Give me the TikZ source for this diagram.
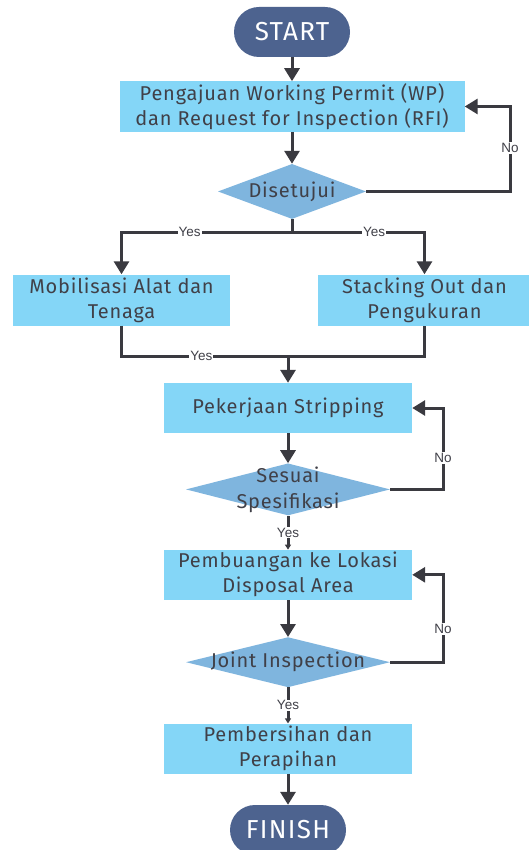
\documentclass[tikz,border=0pt]{standalone}
\usepackage{fontspec}
\setmainfont{Fira Sans}[LetterSpace=4]
\newfontfamily\termfont{Fira Sans}[LetterSpace=5]
\newfontfamily\lblfont{Liberation Sans}
\usetikzlibrary{shapes.geometric, arrows.meta, positioning}
\definecolor{termblue}{HTML}{4D638F}
\definecolor{boxcyan}{HTML}{84D6F7}
\definecolor{diablue}{HTML}{7FB5DE}
\definecolor{txtgray}{HTML}{404048}
\definecolor{linegray}{HTML}{3A3A40}

\begin{document}
\begin{tikzpicture}[x=1pt, y=1pt, term/.style={rectangle,rounded corners=25pt,fill=termblue,text=white,minimum width=116pt,minimum height=50pt,font=\termfont\fontsize{26}{28}\selectfont}, box/.style={rectangle,fill=boxcyan,text=txtgray,align=center,minimum width=248pt,minimum height=50pt,inner sep=2pt,font=\fontsize{20}{25}\selectfont}, dia/.style={diamond,fill=diablue,inner sep=0pt,minimum width=204pt,minimum height=52pt}, dtxt/.style={text=txtgray,align=center,font=\fontsize{20}{26}\selectfont}, arr/.style={-{Triangle[length=13pt,width=15pt]},line width=3pt,linegray}, arrsm/.style={-{Triangle[length=5pt,width=6pt]},line width=3pt,linegray}, ln/.style={line width=3pt,linegray}, lbl/.style={fill=white,inner sep=1pt,text=txtgray,font=\lblfont\fontsize{13.5}{14}\selectfont}]
  \useasboundingbox (0,0) rectangle (528,-850);
  \fill[white] (0,0) rectangle (528,-850);
  % main column
  \node[term] (start) at (292,-32) {START};
  \node[box,minimum width=345pt,below=24pt of start] (wp) {Pengajuan Working Permit (WP)\\dan Request for Inspection (RFI)};
  \node[dia,minimum width=148pt,minimum height=55pt,below=32pt of wp,label={[dtxt]center:Disetujui}] (dis) {};
  \node[box,minimum width=217pt,minimum height=51pt] (mob) at (121.5,-300) {Mobilisasi Alat dan\\Tenaga};
  \node[box,minimum width=214pt,minimum height=51pt] (stack) at (424.5,-300) {Stacking Out dan\\Pengukuran};
  \node[box] (strip) at (288,-408) {Pekerjaan Stripping};
  \node[dia,below=30pt of strip,label={[dtxt]center:Sesuai\\Spesifikasi}] (ss) {};
  \node[box,below=34pt of ss] (pb) {Pembuangan ke Lokasi\\Disposal Area};
  \node[dia,minimum height=50pt,below=37pt of pb,label={[dtxt]center:Joint Inspection}] (ji) {};
  \node[box,below=36pt of ji] (pc) {Pembersihan dan\\Perapihan};
  \node[term,below=31pt of pc] (finish) {FINISH};
  % turning points
  \coordinate (n1) at (510,-148);
  \coordinate (n2) at (443,-458);
  \coordinate (n3) at (443,-629);
  \coordinate (s1) at (292,-232);
  \coordinate (m1) at (288,-356);
  % straight arrows
  \foreach \x/\y in {start/wp,wp/dis,strip/ss,pb/ji,pc/finish}{\draw[arr](\x)--(\y);}
  % no loops
  \draw[arr] (dis.east) -| (n1) node[lbl]{No} |- (wp.east);
  \draw[arr] (ss.east) -| (n2) node[lbl]{No} |- (strip.east);
  \draw[arr] (ji.east) -| (n3) node[lbl]{No} |- (pb.east);
  % split and merge
  \draw[ln] (dis.south) -- (s1);
  \draw[arr] (s1) -| node[lbl,pos=0.3]{Yes} (mob);
  \draw[arr] (s1) -| node[lbl,pos=0.31]{Yes} (stack);
  \draw[ln] (mob) |- node[lbl,pos=0.74]{Yes} (m1) -| (stack);
  \draw[arr] (m1) -- (strip);
  % yes arrows
  \draw[arrsm] (ss.south) -- node[lbl]{Yes} (pb);
  \draw[arrsm] (ji.south) -- node[lbl]{Yes} (pc);
\end{tikzpicture}
\end{document}
